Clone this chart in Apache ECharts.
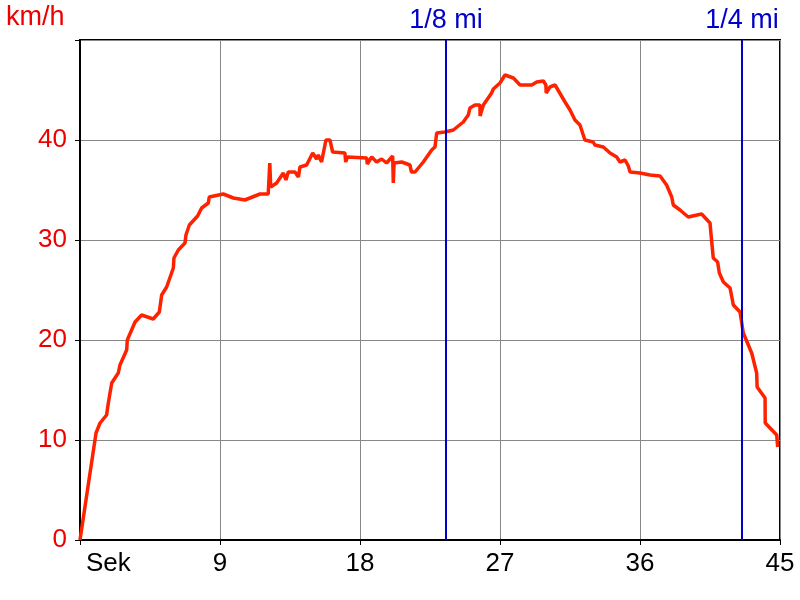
<!DOCTYPE html>
<html>
<head>
<meta charset="utf-8">
<script src="https://cdn.jsdelivr.net/npm/echarts@6/dist/echarts.min.js"></script>
<style>html,body{margin:0;padding:0;background:#fff}#c{width:800px;height:600px}</style>
</head>
<body>
<div id="c"></div>
<script>
const times = [0, 1.03, 1.29, 1.71, 1.82, 2.04, 2.46, 2.57, 3.0, 3.04, 3.54, 3.96, 4.71, 5.1, 5.25, 5.57, 6.0, 6.04, 6.32, 6.75, 6.81, 7.03, 7.56, 7.82, 8.25, 8.31, 9.21, 9.86, 10.6, 11.57, 12.1, 12.2, 12.26, 12.64, 13.07, 13.24, 13.39, 13.82, 14.04, 14.14, 14.57, 14.96, 15.21, 15.32, 15.53, 15.81, 16.07, 16.24, 17.03, 17.08, 17.19, 18.43, 18.47, 18.75, 19.07, 19.39, 19.71, 20.1, 20.14, 20.19, 20.68, 21.21, 21.31, 21.54, 22.07, 22.61, 22.82, 22.93, 23.46, 24.0, 24.64, 24.96, 25.07, 25.39, 25.71, 25.72, 25.93, 26.46, 26.57, 27.0, 27.32, 27.86, 28.29, 29.04, 29.36, 29.79, 29.95, 29.97, 30.21, 30.54, 31.18, 31.5, 31.82, 32.14, 32.46, 32.99, 33.1, 33.64, 33.86, 34.07, 34.5, 34.71, 35.04, 35.25, 35.36, 36.0, 36.64, 37.29, 37.71, 38.04, 38.14, 38.57, 39.1, 39.96, 40.5, 40.6, 40.71, 40.99, 41.1, 41.36, 41.79, 42.0, 42.43, 42.64, 43.18, 43.5, 43.53, 44.04, 44.05, 44.79, 44.85];
const speeds = [0, 10.7, 11.7, 12.5, 13.7, 15.7, 16.7, 17.5, 19, 20, 21.8, 22.5, 22.1, 22.8, 24.5, 25.3, 27.2, 28.2, 29, 29.7, 30.5, 31.5, 32.4, 33.2, 33.7, 34.3, 34.6, 34.2, 34, 34.6, 34.6, 37.7, 35.3, 35.7, 36.7, 36, 36.8, 36.8, 36.3, 37.3, 37.5, 38.7, 38.1, 38.5, 37.8, 40, 40, 38.8, 38.7, 37.8, 38.3, 38.2, 37.6, 38.3, 37.8, 38.1, 37.7, 38.4, 35.7, 37.7, 37.8, 37.5, 36.8, 36.8, 37.8, 39, 39.3, 40.7, 40.8, 41, 41.8, 42.5, 43.2, 43.5, 43.5, 42.4, 43.5, 44.7, 45.1, 45.7, 46.5, 46.2, 45.5, 45.5, 45.8, 45.9, 45.5, 44.7, 45.3, 45.5, 43.8, 43, 42, 41.5, 40, 39.8, 39.5, 39.3, 39, 38.7, 38.3, 37.8, 38, 37.4, 36.8, 36.7, 36.5, 36.4, 35.5, 34.3, 33.5, 33, 32.3, 32.6, 31.7, 30, 28.2, 27.8, 26.7, 25.8, 25.2, 23.5, 22.8, 20.7, 18.7, 16.7, 15.3, 14.2, 11.7, 10.5, 9.3];
const markerTimes = [23.53, 42.55];
const markerLabels = ['1/8 mi', '1/4 mi'];
const xTickLabels = ['Sek', '9', '18', '27', '36', '45'];
const yUnit = 'km/h';

const chart = echarts.init(document.getElementById('c'), null, {renderer: 'canvas'});
const FONT = 'Liberation Sans, Arial, sans-serif';
chart.setOption({
  animation: false,
  backgroundColor: '#fff',
  grid: {left: 80, right: 20, top: 40, bottom: 60, show: true, borderColor: '#000', borderWidth: 2, containLabel: false},
  graphic: [{type: 'text', left: 6, top: 4, style: {text: yUnit, fill: '#ee0000', font: '27px ' + FONT}}],
  xAxis: {
    type: 'value', min: 0, max: 45, interval: 9,
    axisLine: {show: true, lineStyle: {color: '#000', width: 2}},
    axisTick: {show: true, length: 5, lineStyle: {color: '#000', width: 1}},
    splitLine: {show: true, lineStyle: {color: '#888', width: 1}},
    axisLabel: {
      color: '#000', fontSize: 26, fontFamily: FONT, margin: 11,
      alignMinLabel: 'left',
      formatter: function (v) { const i = Math.round(v / 9); return i === 0 ? '{s|' + xTickLabels[0] + '}' : xTickLabels[i]; },
      rich: {s: {fontSize: 26, fontFamily: FONT, color: '#000', padding: [0, 0, 0, 6]}}
    }
  },
  yAxis: {
    type: 'value', min: 0, max: 50, interval: 10,
    axisLine: {show: true, lineStyle: {color: '#000', width: 2}},
    axisTick: {show: true, length: 5, lineStyle: {color: '#000', width: 1}},
    splitLine: {show: true, lineStyle: {color: '#888', width: 1}},
    axisLabel: {color: '#ee0000', fontSize: 26, fontFamily: FONT, margin: 13,
      formatter: function (v) { return v >= 50 ? '' : String(v); }}
  },
  series: [{
    type: 'line',
    data: times.map((t, i) => [t, speeds[i]]),
    showSymbol: false,
    lineStyle: {color: '#ff2200', width: 3.5},
    z: 3,
    markLine: {
      silent: true, symbol: 'none',
      lineStyle: {color: '#0000c8', width: 2, type: 'solid'},
      label: {show: true, position: 'end', color: '#0000c8', fontSize: 27, fontFamily: FONT, distance: 6,
        formatter: function (p) { return markerLabels[p.dataIndex]; }},
      data: markerTimes.map(t => ({xAxis: t}))
    }
  }]
});
</script>
</body>
</html>
